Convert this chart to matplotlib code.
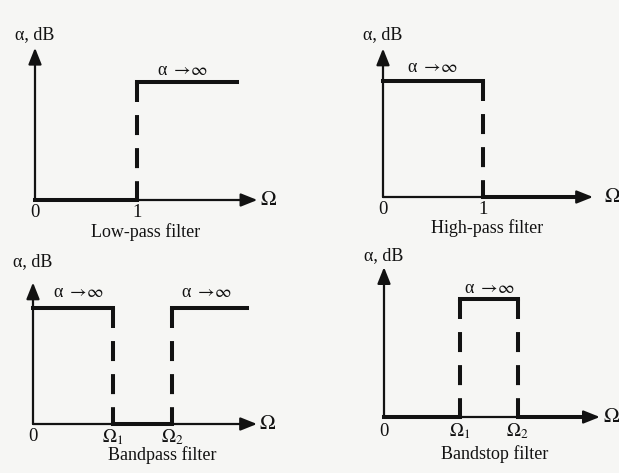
import matplotlib
matplotlib.use("Agg")
import matplotlib.pyplot as plt

plt.rcParams["font.family"] = ["Liberation Serif", "DejaVu Serif"]
plt.rcParams["mathtext.fontset"] = "stix"
plt.rcParams["lines.scale_dashes"] = False

# Band edges (normalised frequency) and attenuation per band: 0 = passband, 1 = stopband (alpha -> inf)
lp_edges = [0.0, 1.0, 1.98]
lp_atten = [0, 1]
hp_edges = [0.0, 1.0, 1.94]
hp_atten = [1, 0]
bp_edges = [0.0, 1.0, 1.74, 2.68]
bp_atten = [1, 0, 1]
bs_edges = [0.0, 1.0, 1.76, 2.58]
bs_atten = [0, 1, 0]

lp_ticks = ["0", "1"]
hp_ticks = ["0", "1"]
bp_ticks = ["0", r"$\Omega_1$", r"$\Omega_2$"]
bs_ticks = ["0", r"$\Omega_1$", r"$\Omega_2$"]

titles = ["Low-pass filter", "High-pass filter", "Bandpass filter", "Bandstop filter"]
stop_label = r"α $\rightarrow\!\infty$"

W, H = 619, 473
INK = "#121212"
fig = plt.figure(figsize=(W / 100, H / 100), dpi=100)
fig.patch.set_facecolor("#f6f6f4")


def panel(ox, oy, sx, sy, edges, atten, ticks, title, xend, yend,
          inf_pos, title_pos, omega_x, ylab_y, tick_y=-0.11):
    ax = fig.add_axes([ox / W, 1 - oy / H, sx / W, sy / H])
    ax.set_xlim(0, 1)
    ax.set_ylim(0, 1)
    ax.axis("off")
    arrow = dict(arrowstyle="-|>,head_length=0.55,head_width=0.22", lw=1.6,
                 color=INK, shrinkA=0, shrinkB=0, mutation_scale=18)
    ax.annotate("", xy=(xend, 0), xytext=(0, 0), arrowprops=arrow,
                annotation_clip=False)
    ax.annotate("", xy=(0, yend), xytext=(0, 0), arrowprops=arrow,
                annotation_clip=False)
    # characteristic: thick horizontal segments per band
    for i, a in enumerate(atten):
        ax.plot([edges[i], edges[i + 1]], [a, a], color=INK, lw=2.9,
                solid_capstyle="projecting", clip_on=False)
    # dashed transitions at interior band edges
    for e in edges[1:-1]:
        ax.plot([e, e], [1, 0], color=INK, lw=2.9, linestyle=(0, (14.4, 9.4)),
                dash_capstyle="butt", clip_on=False)
    for e, t in zip(edges[:-1], ticks):
        ax.text(e, tick_y, t, ha="center", va="center", fontsize=13.5,
                color=INK)
    ax.text(omega_x, 0, r"$\Omega$", ha="center", va="center", fontsize=15,
            color=INK, clip_on=False)
    ax.text(0, ylab_y, "α, dB", ha="center", va="center",
            fontsize=13, color=INK)
    for (x, y) in inf_pos:
        ax.text(x, y, stop_label, ha="center", va="center",
                fontsize=13, color=INK)
    ax.text(title_pos[0], title_pos[1], title, ha="center", va="center",
            fontsize=13, color=INK)
    return ax


panel(35, 200, 102, 118, lp_edges, lp_atten, lp_ticks, titles[0],
      2.18, 1.29, [(1.45, 1.10)], (1.08, -0.27), 2.29, 1.40)
panel(383, 197, 100, 116, hp_edges, hp_atten, hp_ticks, titles[1],
      2.10, 1.28, [(0.50, 1.12)], (1.04, -0.27), 2.29, 1.40)
panel(33, 424, 80, 116, bp_edges, bp_atten, bp_ticks, titles[2],
      2.80, 1.22, [(0.575, 1.13), (2.175, 1.13)], (1.61, -0.27), 2.93, 1.40)
panel(384, 417, 76, 118, bs_edges, bs_atten, bs_ticks, titles[3],
      2.84, 1.27, [(1.39, 1.09)], (1.46, -0.31), 3.0, 1.37, tick_y=-0.12)

fig.savefig("out.png", dpi=100, facecolor=fig.get_facecolor())
